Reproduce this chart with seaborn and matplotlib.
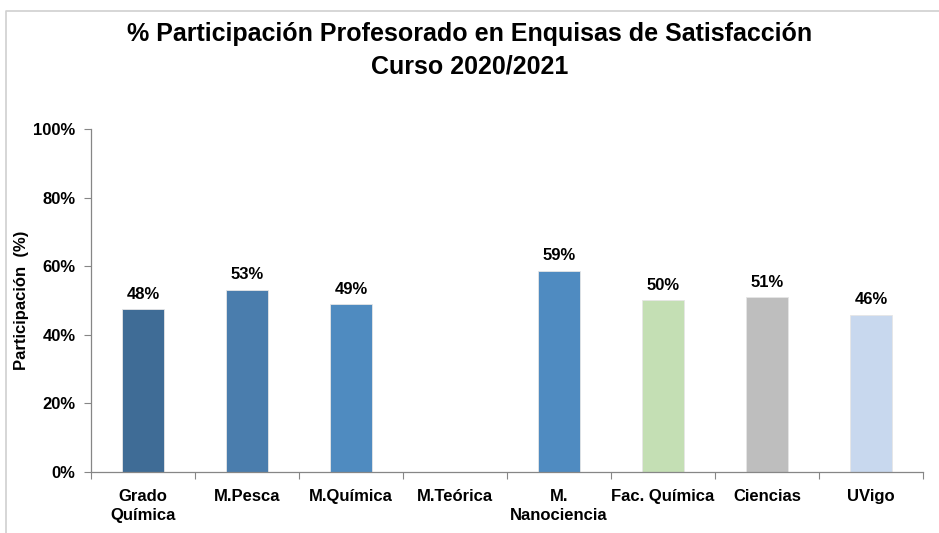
import pandas as pd
import numpy as np
import matplotlib.pyplot as plt
import seaborn as sns
from matplotlib.ticker import PercentFormatter, FixedLocator

categorias = ['Grado\nQuímica', 'M.Pesca', 'M.Química', 'M.Teórica',
              'M.\nNanociencia', 'Fac. Química', 'Ciencias', 'UVigo']
participacion = [47.5, 53.1, 48.9, np.nan, 58.6, 50.1, 51.0, 45.8]
etiquetas = ['48%', '53%', '49%', '', '59%', '50%', '51%', '46%']
colores = ['#3F6C96', '#4A7DAD', '#4F8BC0', '#4F8BC0',
           '#4F8BC1', '#C4DFB4', '#BEBEBE', '#C8D8EE']

sns.set_style('white')
plt.rcParams['font.family'] = ['Liberation Sans', 'DejaVu Sans']
plt.rcParams['font.weight'] = 'bold'
plt.rcParams['text.color'] = 'black'
plt.rcParams['xtick.color'] = 'black'
plt.rcParams['ytick.color'] = 'black'
plt.rcParams['axes.labelcolor'] = 'black'

df = pd.DataFrame({'cat': categorias, 'val': participacion})

fig = plt.figure(figsize=(9.39, 5.33), dpi=100)
ax = fig.add_axes([91/939, 1-472/533, (923-91)/939, (472-129)/533])

sns.barplot(data=df, x='cat', y='val', hue='cat', palette=colores, saturation=1,
            legend=False, width=0.4, ax=ax, edgecolor='#E6E6E6', linewidth=0.6)

for i, (v, t) in enumerate(zip(participacion, etiquetas)):
    if not np.isnan(v):
        ax.text(i, v + 2.2, t, ha='center', va='bottom', fontsize=12, fontweight='bold')

ax.set_xlim(-0.5, len(categorias) - 0.5)
ax.set_ylim(0, 100)
ax.set_yticks(range(0, 101, 20))
ax.yaxis.set_major_formatter(PercentFormatter(decimals=0))
ax.tick_params(axis='y', length=5, width=0.8, color='#868686', labelcolor='black',
               labelsize=12, pad=6, left=True)
ax.tick_params(axis='x', which='major', length=0, labelsize=12, pad=12, labelcolor='black')
ax.xaxis.set_minor_locator(FixedLocator(np.arange(-0.5, len(categorias), 1)))
ax.tick_params(axis='x', which='minor', length=5, width=0.8, color='#868686', bottom=True)
for lab in ax.get_xticklabels():
    lab.set_fontweight('bold')
    lab.set_linespacing(1.4)
for lab in ax.get_yticklabels():
    lab.set_fontweight('bold')
for s in ['top', 'right']:
    ax.spines[s].set_visible(False)
for s in ['left', 'bottom']:
    ax.spines[s].set_color('#868686')
    ax.spines[s].set_linewidth(0.9)

ax.set_xlabel('')
ax.set_ylabel('Participación  (%)', fontsize=12, fontweight='bold', labelpad=3)

fig.text(0.5, 1 - 50/533, '% Participación Profesorado en Enquisas de Satisfacción\nCurso 2020/2021',
         ha='center', va='center', fontsize=18, fontweight='bold', linespacing=1.45)

border = plt.Line2D([6/939, 6/939, 1], [0, 1-11/533, 1-11/533], transform=fig.transFigure,
                    color='#D0D0D0', linewidth=1.2)
fig.add_artist(border)

fig.savefig('out.png', dpi=100)
